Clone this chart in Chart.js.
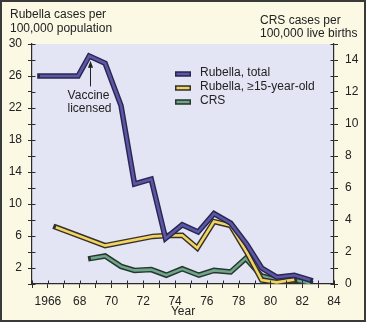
<!DOCTYPE html>
<html>
<head>
<meta charset="utf-8">
<script src="https://cdn.jsdelivr.net/npm/chart.js@4.4.1/dist/chart.umd.min.js"></script>
<style>
  html, body { margin: 0; padding: 0; background: #fbf8e4; }
  #wrap { width: 366px; height: 322px; position: relative; }
  canvas { display: block; }
</style>
</head>
<body>
<div id="wrap"><canvas id="chart" width="366" height="322"></canvas></div>
<script>
// Rubella, all ages (cases per 100,000 population, left axis)
const totalYears = [1965.5, 1967.9, 1968.6, 1969.6, 1970.6, 1971.45, 1972.5, 1973.4, 1974.45, 1975.45, 1976.45, 1977.5, 1978.5, 1979.45, 1980.4, 1981.5, 1982.5];
const totalRates = [26.0, 26.0, 28.5, 27.6, 22.3, 12.5, 13.1, 5.7, 7.4, 6.5, 8.8, 7.6, 5.0, 2.0, 0.85, 1.1, 0.5];

// Rubella, persons aged 15 years and older (left axis)
const adultYears = [1966.5, 1969.6, 1972.6, 1973.5, 1974.45, 1975.4, 1976.45, 1977.5, 1978.5, 1979.45, 1980.4, 1981.5];
const adultRates = [7.1, 4.8, 5.95, 6.05, 6.1, 4.5, 7.8, 7.3, 4.0, 0.5, 0.2, 0.55];

// Congenital rubella syndrome (cases per 100,000 live births, right axis)
const crsYears = [1968.7, 1969.6, 1970.6, 1971.45, 1972.5, 1973.45, 1974.45, 1975.5, 1976.45, 1977.5, 1978.45, 1979.45, 1980.4, 1981.5, 1982.5];
const crsRates = [1.6, 1.75, 1.1, 0.85, 0.9, 0.55, 0.95, 0.55, 0.85, 0.75, 1.6, 0.5, 0.25, 0.25, 0.05];

// Axis ranges and labelling
const yearRange = [1965, 1984];
const leftRange = [0, 30];
const rightRange = [0, 15];
const leftLabelValues = [2, 6, 10, 14, 18, 22, 26, 30];
const rightLabelValues = [0, 2, 4, 6, 8, 10, 12, 14];
const yearLabelValues = [1966, 1968, 1970, 1972, 1974, 1976, 1978, 1980, 1982, 1984];

const seriesNames = ['Rubella, total', 'Rubella, \u226515-year-old', 'CRS'];
const leftTitle = ['Rubella cases per', '100,000 population'];
const rightTitle = ['CRS cases per', '100,000 live births'];
const vaccineYear = 1968.65;
const vaccineText = ['Vaccine', 'licensed'];

const FONT = '"Liberation Sans", Arial, Helvetica, sans-serif';
const INK = '#2b2b2b';
const CREAM = '#fbf8e4';
const LAVENDER = '#e3e4f4';
const colors = {
  total: { edge: '#29274f', fill: '#5b56a6' },
  adult: { edge: '#35322a', fill: '#f2d462' },
  crs:   { edge: '#27362f', fill: '#6fa68a' }
};

function pairs(xs, ys) { return xs.map((x, i) => ({ x: x, y: ys[i] })); }

// Each series is drawn as a dark edge stroke with a coloured stroke on top
function bandDatasets(xs, ys, axis, c, baseOrder) {
  const common = { data: pairs(xs, ys), yAxisID: axis, pointRadius: 0, tension: 0,
                   borderJoinStyle: 'miter', fill: false };
  return [
    Object.assign({}, common, { borderColor: c.edge, borderWidth: 5.5, borderCapStyle: 'square', order: baseOrder + 1 }),
    Object.assign({}, common, { borderColor: c.fill, borderWidth: 2.6, borderCapStyle: 'butt', order: baseOrder })
  ];
}

const datasets = [].concat(
  bandDatasets(totalYears, totalRates, 'y', colors.total, 1),
  bandDatasets(adultYears, adultRates, 'y', colors.adult, 3),
  bandDatasets(crsYears, crsRates, 'y2', colors.crs, 5)
);

const backdrop = {
  id: 'backdrop',
  beforeDraw(chart) {
    const { ctx, chartArea: a } = chart;
    ctx.save();
    ctx.fillStyle = CREAM;
    ctx.fillRect(0, 0, chart.width, chart.height);
    ctx.fillStyle = LAVENDER;
    ctx.fillRect(a.left, a.top, a.right - a.left, a.bottom - a.top);
    ctx.restore();
  }
};

const decorations = {
  id: 'decorations',
  afterDraw(chart) {
    const { ctx, chartArea: a, scales } = chart;
    ctx.save();
    // inward halves of the tick marks
    ctx.strokeStyle = INK;
    ctx.lineWidth = 1;
    ctx.beginPath();
    scales.x.ticks.forEach(t => {
      const p = Math.round(scales.x.getPixelForValue(t.value)) + 0.5;
      ctx.moveTo(p, a.bottom); ctx.lineTo(p, a.bottom - 3.5);
    });
    scales.y.ticks.forEach(t => {
      const p = Math.round(scales.y.getPixelForValue(t.value)) + 0.5;
      ctx.moveTo(a.left, p); ctx.lineTo(a.left + 3.5, p);
    });
    scales.y2.ticks.forEach(t => {
      const p = Math.round(scales.y2.getPixelForValue(t.value)) + 0.5;
      ctx.moveTo(a.right, p); ctx.lineTo(a.right - 3.5, p);
    });
    ctx.stroke();

    // axis titles
    ctx.fillStyle = '#222';
    ctx.font = '12px ' + FONT;
    ctx.textBaseline = 'middle';
    ctx.textAlign = 'left';
    ctx.fillText(leftTitle[0], 10, 14.5);
    ctx.fillText(leftTitle[1], 10, 28.5);
    ctx.fillText(rightTitle[0], 260, 20.5);
    ctx.fillText(rightTitle[1], 260, 33.3);

    // vaccine licensure marker
    const ax = Math.round(scales.x.getPixelForValue(vaccineYear)) + 0.5;
    const tipY = scales.y.getPixelForValue(27.9);
    const baseY = scales.y.getPixelForValue(24.7);
    ctx.strokeStyle = '#222';
    ctx.lineWidth = 1;
    ctx.beginPath();
    ctx.moveTo(ax, baseY); ctx.lineTo(ax, tipY + 5);
    ctx.stroke();
    ctx.fillStyle = '#222';
    ctx.beginPath();
    ctx.moveTo(ax, tipY); ctx.lineTo(ax - 2.6, tipY + 7); ctx.lineTo(ax + 2.6, tipY + 7);
    ctx.closePath(); ctx.fill();
    ctx.textAlign = 'center';
    ctx.fillText(vaccineText[0], ax - 2, scales.y.getPixelForValue(23.6));
    ctx.fillText(vaccineText[1], ax - 1, scales.y.getPixelForValue(21.95));

    // legend
    const keys = ['total', 'adult', 'crs'];
    const rows = [74, 88, 102];
    keys.forEach((k, i) => {
      const y = rows[i];
      ctx.fillStyle = colors[k].edge;
      ctx.fillRect(175, y - 2.75, 16, 5.5);
      ctx.fillStyle = colors[k].fill;
      ctx.fillRect(176.5, y - 1.2, 13, 2.4);
      ctx.fillStyle = '#222';
      ctx.textAlign = 'left';
      ctx.fillText(seriesNames[i], 200, y - 1);
    });

    // outer frame
    ctx.strokeStyle = '#3a3a3a';
    ctx.lineWidth = 2;
    ctx.strokeRect(1, 1, chart.width - 2, chart.height - 2);
    ctx.restore();
  }
};

const tickFont = { family: FONT, size: 12 };
const axisGrid = { display: true, drawOnChartArea: false, drawTicks: true, tickLength: 4, color: INK, lineWidth: 1 };
const axisBorder = { display: true, color: INK, width: 1.2 };

new Chart(document.getElementById('chart'), {
  type: 'line',
  data: { datasets: datasets },
  plugins: [backdrop, decorations],
  options: {
    responsive: false,
    devicePixelRatio: 1,
    animation: false,
    events: [],
    layout: { padding: { top: 44, left: 0, right: 0, bottom: 0 } },
    plugins: { legend: { display: false }, tooltip: { enabled: false } },
    scales: {
      x: {
        type: 'linear', min: yearRange[0], max: yearRange[1],
        grid: axisGrid, border: axisBorder,
        ticks: {
          stepSize: 1, autoSkip: false, maxRotation: 0, padding: 6, color: '#222', font: tickFont,
          callback: v => yearLabelValues.includes(v) ? (v === yearLabelValues[0] ? String(v) : String(v % 100).padStart(2, '0')) : ''
        },
        title: { display: true, text: 'Year', color: '#222', font: tickFont, padding: { top: 0, bottom: 3 } },
        afterFit: s => { s.height = 38; }
      },
      y: {
        type: 'linear', position: 'left', min: leftRange[0], max: leftRange[1],
        grid: axisGrid, border: axisBorder,
        ticks: { stepSize: 2, autoSkip: false, padding: 6, color: '#222', font: tickFont,
                 callback: v => leftLabelValues.includes(v) ? String(v) : '' },
        afterFit: s => { s.width = 32; }
      },
      y2: {
        type: 'linear', position: 'right', min: rightRange[0], max: rightRange[1],
        grid: axisGrid, border: axisBorder,
        ticks: { stepSize: 1, autoSkip: false, padding: 7, color: '#222', font: tickFont,
                 callback: v => rightLabelValues.includes(v) ? String(v) : '' },
        afterFit: s => { s.width = 32; }
      }
    }
  }
});
</script>
</body>
</html>
